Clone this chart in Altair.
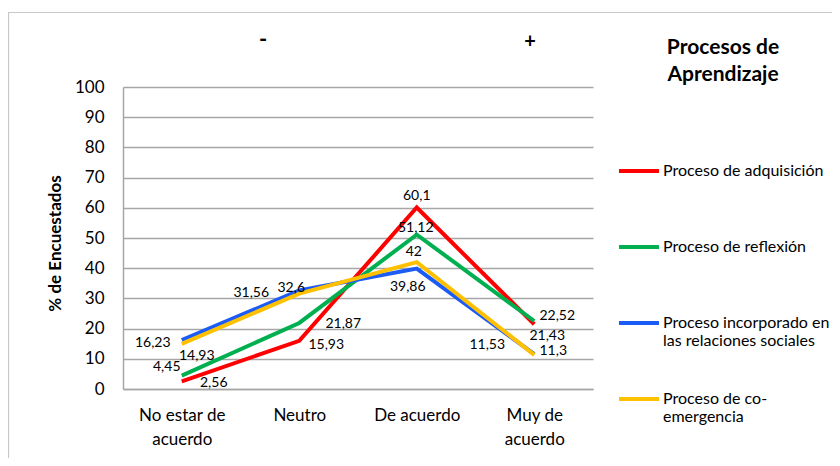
import altair as alt
import pandas as pd

# ---------------- data ----------------
CATEGORIES = ["No estar de acuerdo", "Neutro", "De acuerdo", "Muy de acuerdo"]
SERIES = [
    "Proceso de adquisición",
    "Proceso de reflexión",
    "Proceso incorporado en las relaciones sociales",
    "Proceso de co-emergencia",
]
ADQUISICION = [2.56, 15.93, 60.1, 21.43]
REFLEXION = [4.45, 21.87, 51.12, 22.52]
INCORPORADO = [16.23, 32.6, 39.86, 11.53]
COEMERGENCIA = [14.93, 31.56, 42, 11.3]
Y_TICKS = [0, 10, 20, 30, 40, 50, 60, 70, 80, 90, 100]
SIGNS = ["-", "+"]

# ---------------- style ----------------
COLORS = ["#ff0000", "#00b050", "#1a5cf5", "#ffc000"]
# data-label offsets (px) relative to each point, per series
LABEL_DX = [[32, 27, 0, 13], [-15, 44, -1, 23], [-29, -8, -9, -47], [15, -48, -3, 19]]
LABEL_DY = [[2, 4, -11, 12], [-9, 1, -7, -5], [3, -3, 18, -9], [12, -1, -10, -4]]
FONT = "Lato"
GRID = "#a6a6a6"

VALUES = [ADQUISICION, REFLEXION, INCORPORADO, COEMERGENCIA]
rows = []
for s, name in enumerate(SERIES):
    for c, cat in enumerate(CATEGORIES):
        rows.append({"serie": name, "cat": cat, "value": VALUES[s][c], "s": s, "c": c})
df = pd.DataFrame(rows)

W, H = 470, 302

x_enc = alt.X(
    "cat:N",
    sort=CATEGORIES,
    scale=alt.Scale(type="point", padding=0.5),
    axis=alt.Axis(
        title=None,
        labelAngle=0,
        ticks=False,
        grid=False,
        domainColor=GRID,
        domainWidth=1.5,
        labelFontSize=17,
        labelColor="#000000",
        labelPadding=18,
        labelLineHeight=24,
        labelExpr="datum.label == 'No estar de acuerdo' ? ['No estar de', 'acuerdo'] : "
                  "datum.label == 'Muy de acuerdo' ? ['Muy de', 'acuerdo'] : datum.label",
    ),
)
y_enc = alt.Y(
    "value:Q",
    scale=alt.Scale(domain=[0, 100], nice=False),
    axis=alt.Axis(
        values=Y_TICKS,
        labelOverlap=False,
        title="% de Encuestados",
        titleFontSize=17,
        titleFontWeight="bold",
        titleColor="#000000",
        titleX=-68,
        titleY=H / 2 + 5,
        titleAngle=270,
        titleAlign="center",
        titleBaseline="middle",
        ticks=False,
        grid=True,
        gridColor=GRID,
        gridWidth=1.5,
        domainColor=GRID,
        domainWidth=1.5,
        labelFontSize=17,
        labelColor="#000000",
        labelPadding=19,
    ),
)
color_enc = alt.Color(
    "serie:N",
    sort=SERIES,
    scale=alt.Scale(domain=SERIES, range=COLORS),
    legend=alt.Legend(
        title=["Procesos de", "Aprendizaje"],
        orient="none",
        direction="vertical",
        legendX=494,
        legendY=-50,
        titleFontSize=21,
        titleFontWeight="bold",
        titleColor="#000000",
        titleAnchor="middle",
        titleAlign="center",
        titleLineHeight=27,
        titlePadding=64,
        labelFontSize=16,
        labelColor="#000000",
        labelLimit=400,
        labelOffset=2,
        symbolType="stroke",
        symbolSize=1600,
        symbolStrokeWidth=4,
        gridAlign="all",
        rowPadding=28,
        labelExpr="datum.label == 'Proceso incorporado en las relaciones sociales' ? "
                  "['Proceso incorporado en', 'las relaciones sociales'] : "
                  "datum.label == 'Proceso de co-emergencia' ? ['Proceso de co-', 'emergencia'] : datum.label",
    ),
)

base = alt.Chart(df)

frame = alt.Chart(pd.DataFrame({"k": [0]})).mark_rect(
    filled=False, stroke="#c8c8c8", strokeWidth=1.2
).encode(
    x=alt.value(-114.5), x2=alt.value(W + 400), y=alt.value(-74.5), y2=alt.value(H + 300)
)

lines = base.mark_line(strokeWidth=4, strokeJoin="miter").encode(
    x=x_enc, y=y_enc, color=color_enc, order=alt.Order("c:Q")
)

label_layers = []
for s in range(len(SERIES)):
    for c in range(len(CATEGORIES)):
        label_layers.append(
            base.transform_filter(
                (alt.datum.s == s) & (alt.datum.c == c)
            ).transform_calculate(
                lbl="replace(toString(datum.value), '.', ',')"
            ).mark_text(
                fontSize=14, font=FONT, color="#000000", align="center", baseline="middle",
                dx=LABEL_DX[s][c], dy=LABEL_DY[s][c],
            ).encode(x=x_enc, y=y_enc, text=alt.Text("lbl:N"))
        )

sign_df = pd.DataFrame({"sign": SIGNS})
minus = alt.Chart(sign_df).transform_filter(alt.datum.sign == "-").mark_text(
    fontSize=22, fontWeight="bold", font=FONT, color="#000000"
).encode(x=alt.value(140), y=alt.value(-47), text="sign:N")
plus = alt.Chart(sign_df).transform_filter(alt.datum.sign == "+").mark_text(
    fontSize=20, fontWeight="bold", font=FONT, color="#000000"
).encode(x=alt.value(407), y=alt.value(-45), text="sign:N")

chart = alt.layer(frame, lines, *label_layers, minus, plus).properties(
    width=W,
    height=H,
    padding={"left": 115, "top": 79, "right": 239, "bottom": 69},
    autosize=alt.AutoSizeParams(type="none"),
).configure(
    font=FONT,
).configure_view(stroke=None)

chart.save("out.html", embed_options={"renderer": "svg", "actions": False})
